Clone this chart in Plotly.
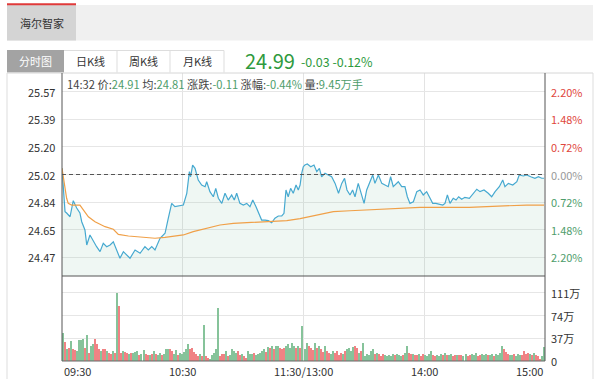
import plotly.graph_objects as go

# ---------------- data ----------------
prev_close = 25.02
title_name = "海尔智家"
last_price = "24.99"
last_change = "-0.03"
last_pct = "-0.12%"

# price line (minute offset from 09:30, 11:30 and 13:00 joined at 120)
price_t = [0, 1.5, 2.3, 4, 5.6, 7.3, 8.9, 9.8, 11.4, 12.3, 13.9, 15.6, 17.2, 18.9, 20.5, 22.2, 23.9, 25.5,
           27.2, 28.8, 30.5, 32.1, 33.8, 36.3, 38.8, 41.2, 42.9, 44.6, 46.2, 48.7, 51.2, 52.8, 54.5, 56.1,
           58.6, 60.3, 62, 63.3, 63.9, 64.9, 66.1, 67.7, 69.4, 71.1, 71.9, 73.5, 75.2, 76.4, 77.7, 79.4,
           81, 82.6, 84.3, 85.6, 86.8, 88.4, 90.1, 91.8, 93.4, 94.8, 96.4, 98, 99.2, 100.9, 102.5, 104.2,
           105.8, 107.5, 109.2, 110.3, 111.3, 112.4, 113.6, 114.9, 116.3, 117.4, 118.3, 119.1, 119.9,
           120.7, 121.9, 123.6, 125.2, 126.6, 127.9, 129, 130.7, 132.3, 134, 135.7, 137.4, 139, 140.4,
           141.6, 143.1, 144.4, 145.6, 147.2, 148.6, 150.1, 151.4, 153, 154.4, 155.5, 157.2, 158.9,
           160.5, 162.1, 163.3, 164.6, 167.1, 168.8, 170.4, 171.6, 172.9, 174.6, 176.3, 177.9, 179.5,
           181.2, 182.9, 184.2, 185.8, 187.5, 189.2, 190.3, 191.5, 192.8, 194.4, 195.8, 197.1, 198.6,
           200.2, 202.4, 204.4, 206.1, 207.7, 209.7, 211.8, 213.5, 215.2, 217.3, 219, 220.1, 221.8,
           224, 226, 227.2, 229.2, 230.9, 232.9, 235, 236.7, 238.4, 239.5]
price_v = [25.061, 24.773, 24.764, 24.739, 24.846, 24.797, 24.764, 24.706, 24.651, 24.551, 24.618, 24.573,
           24.540, 24.507, 24.562, 24.540, 24.551, 24.573, 24.518, 24.463, 24.507, 24.485, 24.463, 24.518,
           24.496, 24.540, 24.518, 24.540, 24.518, 24.596, 24.629, 24.729, 24.828, 24.806, 24.811, 24.817,
           24.895, 25.039, 25.005, 25.083, 25.061, 24.983, 24.950, 24.939, 24.972, 24.906, 24.872, 24.928,
           24.862, 24.828, 24.895, 24.850, 24.884, 24.850, 24.895, 24.828, 24.817, 24.828, 24.806, 24.850,
           24.806, 24.751, 24.717, 24.717, 24.713, 24.699, 24.729, 24.744, 24.744, 24.762, 24.917, 24.872,
           24.928, 24.895, 24.950, 24.917, 24.950, 25.028, 25.072, 25.083, 25.090, 25.072, 25.083, 25.039,
           25.061, 25.005, 25.028, 25.017, 25.005, 24.961, 24.895, 24.961, 24.995, 24.917, 24.884, 24.917,
           24.872, 24.961, 24.895, 24.828, 24.917, 24.972, 25.017, 24.961, 25.017, 24.961, 24.950, 24.939,
           25.005, 24.939, 24.972, 24.939, 24.939, 24.872, 24.828, 24.839, 24.906, 24.917, 24.884, 24.906,
           24.862, 24.828, 24.828, 24.824, 24.817, 24.828, 24.884, 24.828, 24.862, 24.850, 24.872, 24.855,
           24.868, 24.862, 24.895, 24.922, 24.906, 24.917, 24.895, 24.872, 24.906, 24.939, 24.983, 24.939,
           24.961, 24.950, 24.972, 25.017, 25.010, 25.017, 25.005, 24.995, 25.005, 24.995, 24.995]

# average price line
avg_t = [0, 2.3, 3.1, 4.8, 8.9, 10.6, 13.1, 16.4, 21.4, 25.5, 28, 33, 39.6, 46.2, 51.2, 56.1, 60.3,
         65.2, 71.9, 78.5, 85.1, 91.8, 98.4, 105, 111.7, 118.3, 126.6, 134.8, 143.1, 151.4, 159.7,
         168, 177.9, 202.4, 219, 230.9, 239.5]
avg_v = [25.061, 24.862, 24.828, 24.817, 24.817, 24.784, 24.739, 24.706, 24.673, 24.656, 24.622, 24.611,
         24.602, 24.596, 24.602, 24.611, 24.618, 24.640, 24.662, 24.684, 24.695, 24.699, 24.706, 24.706,
         24.713, 24.727, 24.751, 24.773, 24.779, 24.784, 24.793, 24.797, 24.801, 24.802, 24.811, 24.817,
         24.817]

# volume per minute (万手), minutes 1..240
volume = [45, 31, 20, 22, 33, 20, 18, 16, 35, 35,
          36, 22, 42, 13, 24, 27, 36, 27, 20, 16,
          19, 19, 16, 13, 11, 16, 13, 111, 89, 13,
          16, 14, 13, 11, 13, 13, 14, 16, 10, 12,
          18, 12, 10, 9, 11, 16, 12, 10, 13, 9,
          11, 19, 20, 19, 16, 12, 18, 10, 13, 11,
          14, 19, 27, 19, 22, 14, 11, 8, 12, 8,
          59, 8, 5, 3, 9, 13, 19, 86, 8, 12,
          11, 16, 8, 10, 19, 16, 13, 16, 10, 11,
          8, 5, 16, 12, 11, 13, 9, 11, 13, 16,
          19, 14, 23, 22, 24, 19, 24, 24, 22, 19,
          22, 24, 27, 22, 30, 25, 22, 24, 22, 57,
          20, 30, 24, 22, 18, 30, 22, 24, 19, 14,
          24, 16, 13, 12, 16, 13, 16, 10, 13, 11,
          16, 19, 22, 17, 23, 24, 22, 13, 16, 30,
          8, 11, 9, 16, 19, 11, 13, 11, 8, 11,
          9, 8, 10, 8, 11, 9, 11, 10, 8, 9,
          13, 24, 13, 11, 11, 9, 10, 11, 8, 11,
          9, 8, 11, 16, 10, 8, 9, 8, 11, 9,
          13, 10, 9, 11, 8, 10, 10, 9, 10, 8,
          11, 8, 9, 11, 10, 13, 8, 9, 11, 9,
          11, 10, 9, 12, 8, 11, 9, 13, 24, 19,
          14, 12, 10, 9, 11, 8, 11, 10, 9, 16,
          12, 13, 12, 9, 13, 10, 8, 4, 8, 23]
# r = up minute (red), g = down minute (green)
vol_dir = [
    "grgrgrrggg", "grgrggrrrg", "rrgrrgrgrr", "grrgrgggrg", "grrgrgrggr", "gggrrggrgg",
    "gggrrrrrgr", "grrgggggrr", "rgrggggrrg", "rrgggrgggg", "grgrgrggrr", "rgggggrgrg",
    "ggrrrgrgrr", "grrggrrrrg", "rggggrrgrg", "gggggrgrrr", "gggggrgggr", "ggrrgrrgrr",
    "ggggrrgggr", "grggrrgrrg", "grrgggrrgg", "grggrggggr", "rrggrgggrr", "rrgrgrrrgg",
]

time_ticks = [0, 60, 120, 180, 240]
time_labels = ["09:30", "10:30", "11:30/13:00", "14:00", "15:00"]
price_labels = ["25.57", "25.39", "25.20", "25.02", "24.84", "24.65", "24.47"]
pct_labels = ["2.20%", "1.48%", "0.72%", "0.00%", "0.72%", "1.48%", "2.20%"]
vol_ticks = [111, 74, 37, 0]
vol_labels = ["111万", "74万", "37万", "0"]

info = [("14:32 ", None), ("价:", None), ("24.91", "v"), (" 均:", None), ("24.81", "v"),
        (" 涨跌:", None), ("-0.11", "v"), (" 涨幅:", None), ("-0.44%", "v"), (" 量:", None), ("9.45万手", "v")]
tabs = ["分时图", "日K线", "周K线", "月K线"]

# ---------------- styling / layout ----------------
W, H = 600, 379
L, R, T, B = 62, 55, 73, 18
PW, PH = W - L - R, H - T - B
split_px = 276

def px(x):
    return (x - L) / PW

def py(y):
    return (H - B - y) / PH

FONT = "Noto Sans CJK SC, Open Sans, sans-serif"
GREEN_T = "#2f9a3e"
VAL_GREEN = "#4e9d6b"
RED_L = "#e0463c"

step = prev_close * 0.022 / 3
grid_vals = [prev_close + k * step for k in (3, 2, 1, 0, -1, -2, -3)]

dirs = "".join(vol_dir)
vol_colors = ["#f08284" if c == "r" else "#86c39a" for c in dirs]
vol_x = [i + 0.5 for i in range(len(volume))]

fig = go.Figure()
fig.add_trace(go.Scatter(x=price_t, y=price_v, mode="lines", xaxis="x", yaxis="y",
                         line=dict(color="#46a9d0", width=1.2), fill="tozeroy",
                         fillcolor="rgba(120,190,160,0.12)", hoverinfo="skip"))
fig.add_trace(go.Scatter(x=avg_t, y=avg_v, mode="lines", xaxis="x", yaxis="y",
                         line=dict(color="#f0a048", width=1.2), hoverinfo="skip"))
fig.add_trace(go.Bar(x=vol_x, y=volume, xaxis="x", yaxis="y2", width=0.5,
                     marker=dict(color=vol_colors, line=dict(width=0)), hoverinfo="skip"))

split = py(split_px)
fig.update_layout(
    width=W, height=H, margin=dict(l=L, r=R, t=T, b=B),
    paper_bgcolor="white", plot_bgcolor="white", showlegend=False,
    font=dict(family=FONT, size=11, color="#333"),
    bargap=0,
    xaxis=dict(range=[0, 240], domain=[0, 1], anchor="y2", tickvals=time_ticks[1:4],
               showgrid=True, gridcolor="#e3e3e3", gridwidth=1, showticklabels=False,
               zeroline=False, showline=False, ticks=""),
    yaxis=dict(range=[24.345, 25.695], domain=[split, 1], anchor="x", tickvals=grid_vals,
               showgrid=True, gridcolor="#e6e6e6", showticklabels=False, zeroline=False,
               showline=False, ticks=""),
    yaxis2=dict(range=[0, 138.5], domain=[0, split], anchor="x", tickvals=vol_ticks[:3],
                showgrid=True, gridcolor="#e6e6e6", showticklabels=False, zeroline=False,
                showline=False, ticks=""),
)

shapes = []
def rect(x0, y0, x1, y1, fill):
    shapes.append(dict(type="rect", xref="paper", yref="paper", x0=px(x0), x1=px(x1), y0=py(y1), y1=py(y0),
                       fillcolor=fill, line=dict(width=0), layer="below"))

def seg(x0, y0, x1, y1, color, width=1, dash=None):
    shapes.append(dict(type="line", xref="paper", yref="paper", x0=px(x0), x1=px(x1), y0=py(y0), y1=py(y1),
                       line=dict(color=color, width=width, dash=dash)))

# header band and tab
rect(7, 5, 593, 40.5, "#f0f0f0")
rect(7, 5, 76, 40.5, "#d4d4d4")
rect(7, 3.3, 76, 5.3, "#e03a3a")
# buttons
rect(7, 50, 64, 72.5, "#a3a3a3")
seg(64, 50.5, 224, 50.5, "#dddddd")
for xb in (117, 170, 224):
    seg(xb, 50.5, xb, 72.5, "#dddddd")
# frame
seg(7, 73, 593, 73, "#d6d6d6")
seg(7, 73, 7, 379, "#dddddd")
seg(593, 73, 593, 379, "#dddddd")
seg(L, 73, L, 361, "#555555")
seg(L + PW, 73, L + PW, 361, "#555555")
seg(L, split_px, L + PW, split_px, "#555555")
seg(L, 361, L + PW, 361, "#666666")
# prev close dashed line
shapes.append(dict(type="line", xref="x", yref="y", x0=0, x1=240, y0=prev_close, y1=prev_close,
                   line=dict(color="#555555", width=1, dash="4px,3px")))
fig.update_layout(shapes=shapes)

ann = []
def text(x, y, s, size=11, color="#333", xanchor="left", xref="paper", yref="paper"):
    ann.append(dict(x=x, y=y, xref=xref, yref=yref, text=s, showarrow=False, xanchor=xanchor,
                    yanchor="middle", font=dict(size=size, color=color, family=FONT)))

text(px(41.5), py(23), title_name, 11, "#333", "center")
tab_x = [35.5, 90.5, 143.5, 197]
for i, (t, cx) in enumerate(zip(tabs, tab_x)):
    text(px(cx), py(61.5), t, 11, "white" if i == 0 else "#333", "center")
text(px(243), py(61), last_price, 20, GREEN_T)
text(px(299), py(61.5), last_change + " " + last_pct, 12.5, GREEN_T)

info_html = "".join(f'<span style="color:{VAL_GREEN}">{s}</span>' if k else s for s, k in info)
text(px(65), py(84), info_html, 11.2, "#444")

for v, s in zip(grid_vals, price_labels):
    text(px(57), v, s, 11, "#333", "right", yref="y")
for i, (v, s) in enumerate(zip(grid_vals, pct_labels)):
    c = RED_L if i < 3 else ("#999999" if i == 3 else VAL_GREEN)
    text(px(549), v, s, 11, c, "left", yref="y")
for v, s in zip(vol_ticks, vol_labels):
    text(px(549), v, s, 11, "#333", "left", yref="y2")
for i, (v, s) in enumerate(zip(time_ticks, time_labels)):
    xa = "left" if i == 0 else ("right" if i == len(time_ticks) - 1 else "center")
    text(v, py(370.5), s, 11, "#333", xa, xref="x")

fig.update_layout(annotations=ann)
fig.write_html("out.html", config={"displayModeBar": False},
               post_script="document.body.style.margin='0px';")
